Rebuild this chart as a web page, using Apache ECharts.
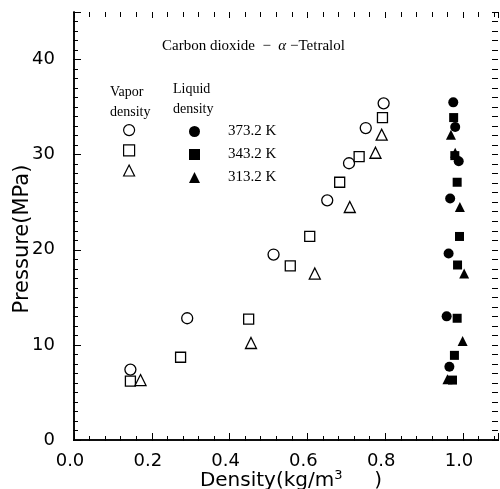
<!DOCTYPE html>
<html>
<head>
<meta charset="utf-8">
<script src="https://cdn.jsdelivr.net/npm/echarts@6/dist/echarts.min.js"></script>
<style>
  html, body { margin: 0; padding: 0; background: #fff; }
  #chart { width: 500px; height: 489px; }
</style>
</head>
<body>
<div id="chart"></div>
<script>
// density (kg/m3) vs pressure (MPa), CO2 - alpha-tetralol
const vapor373 = [[0.145, 7.4], [0.291, 12.8], [0.513, 19.5], [0.651, 25.2], [0.707, 29.1], [0.75, 32.8], [0.796, 35.4]]
const vapor343 = [[0.145, 6.2], [0.274, 8.7], [0.449, 12.7], [0.556, 18.3], [0.606, 21.4], [0.683, 27.1], [0.733, 29.8], [0.793, 33.9]]
const vapor313 = [[0.171, 6.3], [0.455, 10.2], [0.619, 17.5], [0.709, 24.5], [0.775, 30.2], [0.791, 32.1]]
const liquid373 = [[0.965, 7.7], [0.958, 13.0], [0.963, 19.6], [0.967, 25.4], [0.989, 29.3], [0.98, 32.9], [0.975, 35.5]]
const liquid343 = [[0.973, 6.3], [0.978, 8.9], [0.985, 12.8], [0.986, 18.4], [0.991, 21.4], [0.985, 27.1], [0.979, 29.9], [0.976, 33.9]]
const liquid313 = [[0.96, 6.4], [0.999, 10.4], [1.003, 17.5], [0.992, 24.5], [0.98, 30.2], [0.969, 32.1]]
const temps = ['373.2 K', '343.2 K', '313.2 K']
const xTicks = [0, 0.2, 0.4, 0.6, 0.8, 1.0]
const yTicks = [0, 10, 20, 30, 40]

const chart = echarts.init(document.getElementById('chart'))

const L = 74, R = 2, T = 12, B = 49
const W = 500, H = 489

const axisLine = { show: true, lineStyle: { color: '#000', width: 1.5 } }
const tickStyle = { color: '#000', width: 1 }
const noTick = { show: false }

const xBase = { type: 'value', min: 0, max: 1.09, interval: 0.2, splitLine: { show: false } }
const yBase = { type: 'value', min: 0, max: 45, interval: 10, splitLine: { show: false } }

// thin helper grids sit on each edge of the plot; their axes face inward so the ticks point into the plot
const grids = [
  { left: L, right: R, top: T, bottom: B },           // plot
  { left: L, right: R, top: H - B, height: 1 },       // bottom edge
  { left: L, right: R, top: T - 1, height: 1 },       // top edge
  { left: L - 1, width: 1, top: T, bottom: B },       // left edge
  { left: W - R, width: 1, top: T, bottom: B }        // right edge
].map(g => Object.assign({ outerBoundsMode: 'none', containLabel: false }, g))

const tickAxis = (base, gridIndex, position, minorSplit, len, minorLen) => Object.assign({}, base, {
  gridIndex, position,
  axisLine: { show: false },
  axisLabel: { show: false },
  axisTick: { show: true, length: len, lineStyle: tickStyle },
  minorTick: { show: true, splitNumber: minorSplit, length: minorLen, lineStyle: tickStyle }
})
const hidden = gridIndex => ({ type: 'value', gridIndex, show: false })

const openStyle = { color: '#fff', borderColor: '#000', borderWidth: 1.3, opacity: 1 }
const fillStyle = { color: '#000', borderWidth: 0, opacity: 1 }

const mk = (name, data, symbol, size, style) => ({
  name, data, type: 'scatter', symbol, symbolSize: size, itemStyle: style
})

const option = {
  animation: false,
  backgroundColor: '#fff',
  grid: grids,
  title: {
    text: 'Carbon dioxide  −  {a|α} −Tetralol',
    left: 162, top: 39, padding: 0,
    textStyle: {
      fontFamily: 'Liberation Serif', fontSize: 15, fontWeight: 'normal', color: '#000',
      rich: { a: { fontFamily: 'Liberation Serif', fontStyle: 'italic', fontSize: 15, color: '#000' } }
    }
  },
  legend: [
    {
      data: ['v373', 'v343', 'v313'],
      orient: 'vertical', left: 123, top: 124, itemGap: 8, padding: 0,
      itemWidth: 11, itemHeight: 11,
      itemStyle: { borderWidth: 1.2 },
      formatter: () => '',
      textStyle: { fontSize: 1, lineHeight: 11 },
      selectedMode: false
    },
    {
      data: ['l373', 'l343', 'l313'],
      orient: 'vertical', left: 189, top: 124, itemGap: 8, padding: 0,
      itemWidth: 11, itemHeight: 11,
      formatter: name => temps[['l373', 'l343', 'l313'].indexOf(name)],
      textStyle: { fontFamily: 'Liberation Serif', fontSize: 15, lineHeight: 11, color: '#000', padding: [0, 0, 0, 23] },
      selectedMode: false
    }
  ],
  graphic: [
    { type: 'text', left: 110, top: 82, style: { text: 'Vapor\ndensity', font: '14px "Liberation Serif"', fill: '#000', lineHeight: 20 } },
    { type: 'text', left: 173, top: 79, style: { text: 'Liquid\ndensity', font: '14px "Liberation Serif"', fill: '#000', lineHeight: 20 } }
  ],
  xAxis: [
    Object.assign({}, xBase, {
      gridIndex: 0, position: 'bottom',
      name: 'Density(kg/m{s|3}     )', nameLocation: 'middle', nameGap: 29, nameMoveOverlap: false,
      nameTextStyle: {
        fontFamily: 'DejaVu Sans', fontSize: 20, color: '#000', padding: [0, 0, 0, 10],
        rich: { s: { fontSize: 13, verticalAlign: 'top', padding: [0, 0, 10, 0], fontFamily: 'DejaVu Sans', color: '#000' } }
      },
      axisLine,
      axisTick: noTick,
      minorTick: noTick,
      axisLabel: {
        fontFamily: 'DejaVu Sans', fontSize: 18, color: '#000', margin: 12, padding: [0, 8, 0, 0],
        formatter: v => xTicks.includes(Math.round(v * 10) / 10) ? v.toFixed(1) : '',
        showMaxLabel: false
      }
    }),
    Object.assign({}, xBase, {
      gridIndex: 0, position: 'top',
      axisLine,
      axisTick: noTick,
      minorTick: noTick,
      axisLabel: { show: false }
    }),
    tickAxis(xBase, 1, 'top', 5, 8, 5),
    tickAxis(xBase, 2, 'bottom', 5, 6, 5),
    hidden(3),
    hidden(4)
  ],
  yAxis: [
    Object.assign({}, yBase, {
      gridIndex: 0, position: 'left',
      name: 'Pressure(MPa)', nameLocation: 'middle', nameGap: 41, nameRotate: 90, nameMoveOverlap: false,
      nameTextStyle: { fontFamily: 'DejaVu Sans', fontSize: 21, color: '#000', padding: [0, 26, 0, 0] },
      axisLine,
      axisTick: noTick,
      minorTick: noTick,
      axisLabel: {
        fontFamily: 'DejaVu Sans', fontSize: 18, color: '#000', margin: 19,
        formatter: v => yTicks.includes(v) ? String(v) : ''
      }
    }),
    Object.assign({}, yBase, {
      gridIndex: 0, position: 'right',
      axisLine,
      axisTick: noTick,
      minorTick: noTick,
      axisLabel: { show: false }
    }),
    tickAxis(yBase, 3, 'right', 10, 8, 5),
    tickAxis(yBase, 4, 'left', 10, 6, 6),
    hidden(1),
    hidden(2)
  ],
  series: [
    mk('v373', vapor373, 'circle', 11, openStyle),
    mk('v343', vapor343, 'rect', 10, openStyle),
    mk('v313', vapor313, 'triangle', 11, openStyle),
    mk('l373', liquid373, 'circle', 10, fillStyle),
    mk('l343', liquid343, 'rect', 9, fillStyle),
    mk('l313', liquid313, 'triangle', 10, fillStyle)
  ]
}

chart.setOption(option)
</script>
</body>
</html>
